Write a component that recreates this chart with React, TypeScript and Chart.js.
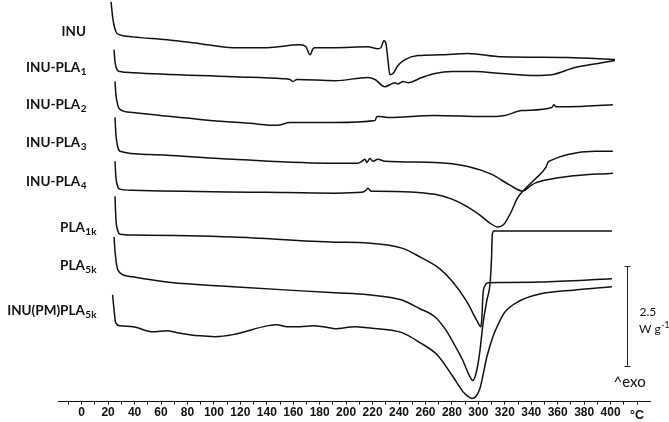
import React, { useEffect, useRef } from "react";
import { Chart, registerables } from "chart.js";

Chart.register(...registerables);

// Temperature (°C), heat flow (W g-1, curves offset vertically)
const inu: [number, number][] = [
  [22.2, 10.03], [23.7, 9.58], [25.9, 9.28], [29.0, 9.2], [38.8, 9.15], [64.5, 9.08], [89.5, 8.98],
  [114.4, 8.88], [140.1, 8.88], [165.1, 8.95], [169.6, 8.9], [172.7, 8.7], [174.9, 8.85], [176.4, 8.88],
  [191.5, 8.88], [216.5, 8.9], [224.0, 8.85], [226.3, 8.88], [228.6, 9.05], [230.1, 8.98], [231.6, 8.58],
  [233.1, 8.2], [235.4, 8.23], [239.2, 8.43], [244.5, 8.58], [254.3, 8.68], [270.9, 8.7], [292.1, 8.73],
  [317.8, 8.65], [367.7, 8.63], [403.3, 8.58],
];
const inuPla1: [number, number][] = [
  [24.5, 8.83], [25.2, 8.53], [26.7, 8.33], [29.0, 8.28], [38.8, 8.25], [114.4, 8.15], [152.2, 8.1],
  [157.5, 8.08], [159.8, 8.03], [162.8, 8.08], [191.5, 8.05], [216.5, 8.13], [221.8, 8.08], [229.3, 7.9],
  [233.1, 7.95], [236.9, 8.0], [239.2, 7.97], [243.0, 8.03], [246.8, 8.0], [257.3, 8.13], [267.1, 8.23],
  [280.0, 8.28], [297.4, 8.28], [317.8, 8.23], [342.8, 8.18], [355.6, 8.2], [373.0, 8.38], [393.4, 8.5],
  [403.3, 8.56],
];
const inuPla2: [number, number][] = [
  [25.2, 8.03], [25.9, 7.7], [27.4, 7.43], [29.0, 7.33], [38.8, 7.25], [89.5, 7.08], [127.3, 6.98],
  [147.7, 6.93], [157.5, 7.0], [191.5, 7.0], [221.8, 7.05], [223.3, 7.15], [225.6, 7.15], [231.6, 7.13],
  [267.1, 7.18], [304.9, 7.15], [320.1, 7.18], [332.9, 7.3], [355.6, 7.38], [357.1, 7.45], [358.6, 7.4],
  [367.7, 7.4], [401.7, 7.45],
];
const inuPla3: [number, number][] = [
  [25.2, 7.13], [25.9, 6.7], [27.4, 6.38], [29.0, 6.28], [51.6, 6.2], [114.4, 6.08], [191.5, 5.98],
  [208.9, 5.98], [212.0, 6.03], [214.2, 6.08], [215.7, 6.0], [218.0, 6.1], [220.3, 6.03], [224.0, 6.08],
  [229.3, 6.03], [267.1, 6.0], [292.1, 5.9], [310.2, 5.7], [323.8, 5.43], [333.6, 5.28], [338.9, 5.4],
  [342.8, 5.48], [354.1, 5.58], [367.7, 5.65], [401.7, 5.73],
];
const inuPla4: [number, number][] = [
  [25.2, 6.03], [25.9, 5.63], [27.4, 5.38], [29.0, 5.33], [38.8, 5.3], [140.1, 5.25], [191.5, 5.23],
  [212.0, 5.25], [215.0, 5.3], [216.5, 5.35], [218.8, 5.28], [224.0, 5.28], [267.1, 5.2], [280.0, 5.08],
  [292.1, 4.88], [301.2, 4.68], [308.7, 4.48], [314.8, 4.38], [319.3, 4.45], [325.4, 4.8], [329.1, 5.08],
  [333.6, 5.28], [342.8, 5.58], [351.1, 5.88], [352.6, 6.0], [354.9, 6.05], [367.7, 6.2], [388.1, 6.28],
  [401.7, 6.28],
];
const pla1k: [number, number][] = [
  [25.2, 5.15], [25.9, 4.58], [27.4, 4.28], [29.0, 4.2], [38.8, 4.18], [114.4, 4.13], [191.5, 4.0],
  [216.5, 3.98], [242.2, 3.85], [255.8, 3.63], [270.9, 3.33], [280.7, 3.0], [291.4, 2.5], [298.9, 2.03],
  [301.9, 1.88], [302.7, 2.13], [303.5, 2.7], [304.9, 2.9], [307.2, 2.98], [316.3, 2.99], [346.5, 3.0],
  [401.0, 3.08],
];
const pla5k: [number, number][] = [
  [24.5, 4.13], [25.2, 3.78], [26.7, 3.38], [29.0, 3.23], [38.8, 3.13], [64.5, 3.0], [114.4, 2.88],
  [191.5, 2.73], [216.5, 2.68], [242.2, 2.55], [255.8, 2.33], [267.1, 2.13], [274.7, 1.83], [280.7, 1.5],
  [288.3, 1.03], [292.8, 0.68], [295.8, 0.53], [298.9, 0.8], [301.2, 1.28], [303.5, 1.95], [306.5, 2.55],
  [308.8, 2.95], [310.0, 3.63], [310.5, 4.18], [311.8, 4.28], [331.4, 4.28], [401.0, 4.28],
];
const inuPmPla5k: [number, number][] = [
  [23.4, 2.68], [24.4, 2.33], [25.7, 1.98], [29.0, 1.9], [38.8, 1.88], [53.9, 1.75], [64.5, 1.78],
  [72.1, 1.73], [89.5, 1.65], [100.8, 1.63], [114.4, 1.68], [140.1, 1.9], [147.7, 1.93], [155.3, 1.88],
  [165.1, 1.88], [174.9, 1.9], [182.5, 1.88], [191.5, 1.83], [206.6, 1.88], [216.5, 1.85], [242.2, 1.73],
  [255.8, 1.48], [268.6, 1.18], [280.7, 0.63], [288.3, 0.25], [291.4, 0.15], [295.1, 0.08], [298.1, 0.13],
  [301.2, 0.33], [306.5, 1.13], [311.0, 1.63], [316.3, 2.03], [320.1, 2.25], [331.4, 2.53], [346.5, 2.7],
  [373.0, 2.8], [401.0, 2.88],
];

const series = [inu, inuPla1, inuPla2, inuPla3, inuPla4, pla1k, pla5k, inuPmPla5k];
const seriesNames = ["INU", "INU-PLA", "INU-PLA", "INU-PLA", "INU-PLA", "PLA", "PLA", "INU(PM)PLA"];
const seriesSubs = ["", "1", "2", "3", "4", "1k", "5k", "5k"];
// heat-flow level at which each name is written
const labelLevels = [9.16, 8.28, 7.33, 6.38, 5.4, 4.26, 3.3, 2.18];

const tickValues = Array.from({ length: 44 }, (_, i) => -10 + i * 10); // -10 .. 420
const scaleBarT = 412.6;
const scaleBarFrom = 0.9;
const scaleBarSpan = 2.5; // W g-1

export default function App() {
  const ref = useRef<HTMLCanvasElement | null>(null);

  useEffect(() => {
    if (!ref.current) return;

    const annot = {
      id: "annot",
      afterDraw(chart: any) {
        const ctx = chart.ctx as CanvasRenderingContext2D;
        const ys = chart.scales.y;
        const xs = chart.scales.x;
        ctx.save();
        ctx.fillStyle = "#111";
        ctx.textAlign = "left";
        ctx.textBaseline = "alphabetic";
        seriesNames.forEach((name, i) => {
          const y = ys.getPixelForValue(labelLevels[i]);
          const right = i < 5 ? 86 : 96;
          ctx.font = "bold 13.5px Lato";
          const w1 = ctx.measureText(name).width;
          ctx.font = "bold 10px Lato";
          const sub = seriesSubs[i];
          const w2 = sub ? ctx.measureText(sub).width : 0;
          const x0 = right - w1 - w2;
          ctx.font = "bold 13.5px Lato";
          ctx.fillText(name, x0, y);
          if (sub) {
            ctx.font = "bold 10px Lato";
            ctx.fillText(sub, x0 + w1 + 0.5, y + 3);
          }
        });

        // °C unit
        ctx.font = "bold 12.5px 'Liberation Sans'";
        ctx.fillText("°C", 630, 419);

        // scale bar
        const bx = Math.round(xs.getPixelForValue(scaleBarT)) + 0.5;
        const by1 = ys.getPixelForValue(scaleBarFrom);
        const by2 = ys.getPixelForValue(scaleBarFrom + scaleBarSpan);
        ctx.strokeStyle = "#222";
        ctx.lineWidth = 1;
        ctx.beginPath();
        ctx.moveTo(bx, by1);
        ctx.lineTo(bx, by2);
        ctx.moveTo(bx - 3, Math.round(by1) + 0.5);
        ctx.lineTo(bx + 3, Math.round(by1) + 0.5);
        ctx.moveTo(bx - 3, Math.round(by2) + 0.5);
        ctx.lineTo(bx + 3, Math.round(by2) + 0.5);
        ctx.stroke();

        const mid = (by1 + by2) / 2;
        ctx.font = "12px Lato";
        ctx.fillText(String(scaleBarSpan), bx + 12, mid);
        const wg = "W g";
        ctx.fillText(wg, bx + 11.5, mid + 17);
        const ww = ctx.measureText(wg).width;
        ctx.font = "8.5px Lato";
        ctx.fillText("-1", bx + 11.5 + ww + 0.5, mid + 12);

        ctx.font = "15px Lato";
        ctx.fillText("^exo", bx - 14, by1 + 21);
        ctx.restore();
      },
    };

    const chart = new Chart(ref.current, {
      type: "line",
      data: {
        datasets: series.map((s, i) => ({
          label: seriesNames[i] + seriesSubs[i],
          data: s.map(([x, y]) => ({ x, y })),
          borderColor: "#111",
          borderWidth: 1.5,
          pointRadius: 0,
          fill: false,
          cubicInterpolationMode: "monotone" as const,
        })),
      },
      options: {
        responsive: false,
        animation: false,
        devicePixelRatio: 1,
        layout: { padding: { left: 58, right: 19, top: 0, bottom: 1 } },
        plugins: { legend: { display: false }, tooltip: { enabled: false } },
        scales: {
          x: {
            type: "linear",
            min: -17.9,
            max: 429.8,
            afterBuildTicks: (scale: any) => {
              scale.ticks = tickValues.map((v) => ({ value: v }));
            },
            ticks: {
              autoSkip: false,
              maxRotation: 0,
              minRotation: 0,
              padding: 1,
              color: "#111",
              font: { family: "'Liberation Sans'", weight: "bold", size: 12 },
              callback: (v: any) => {
                const n = Number(v);
                return n >= 0 && n <= 400 && n % 20 === 0 ? String(n) : "";
              },
            },
            grid: { drawOnChartArea: false, drawTicks: true, tickLength: 3, color: "#111", lineWidth: 1 },
            border: { display: true, color: "#111", width: 1 },
          },
          y: { type: "linear", display: false, min: 0, max: 10.075 },
        },
      },
      plugins: [annot],
    });
    return () => chart.destroy();
  }, []);

  return (
    <div style={{ position: "absolute", left: 0, top: 0, width: 669, height: 422, background: "#fff" }}>
      <canvas ref={ref} width={669} height={422} style={{ display: "block", width: 669, height: 422 }} />
    </div>
  );
}
